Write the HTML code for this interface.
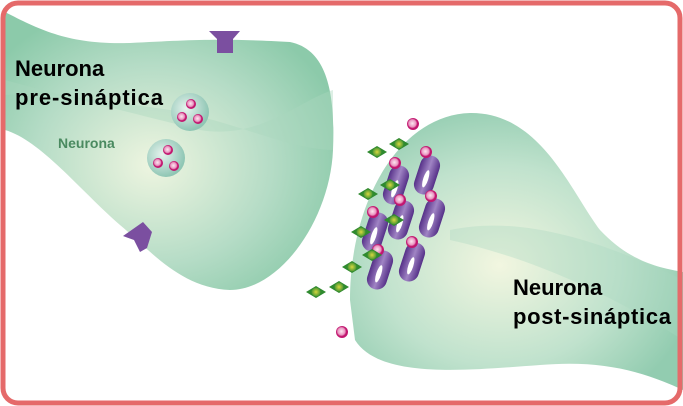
<!DOCTYPE html>
<html><head><meta charset="utf-8"><style>html,body{margin:0;padding:0;background:#fff}svg{display:block}.t{font-family:"Liberation Sans",sans-serif;font-weight:700}</style></head><body>
<svg width="683" height="406" viewBox="0 0 683 406" xmlns="http://www.w3.org/2000/svg">
<defs>
<radialGradient id="g1" cx="0.45" cy="0.55" r="0.6"><stop offset="0" stop-color="#eef5e0"/><stop offset="0.6" stop-color="#b5dcc6"/><stop offset="1" stop-color="#8ccaaa"/></radialGradient>
<radialGradient id="g2" cx="0.45" cy="0.55" r="0.6"><stop offset="0" stop-color="#f2f6e0"/><stop offset="0.6" stop-color="#c0e2cd"/><stop offset="1" stop-color="#92ccb0"/></radialGradient>
<radialGradient id="ves" cx="0.4" cy="0.4" r="0.6"><stop offset="0" stop-color="#e6f3ee"/><stop offset="1" stop-color="#8fc6b4"/></radialGradient>
<radialGradient id="pk" cx="0.45" cy="0.45" r="0.55"><stop offset="0" stop-color="#fde6f0"/><stop offset="0.55" stop-color="#e995c0"/><stop offset="0.75" stop-color="#c2166f"/><stop offset="1" stop-color="#c2166f"/></radialGradient>
<radialGradient id="gr" cx="0.5" cy="0.5" r="0.6"><stop offset="0" stop-color="#d8d840"/><stop offset="1" stop-color="#2f8a2f"/></radialGradient>
<linearGradient id="pu" x1="0" x2="1"><stop offset="0" stop-color="#553088"/><stop offset="0.5" stop-color="#a084c4"/><stop offset="1" stop-color="#553088"/></linearGradient>
<g id="rec"><rect x="-10" y="-20" width="20" height="40" rx="10" fill="url(#pu)"/><ellipse cx="0" cy="4" rx="2.5" ry="9" fill="#fff"/></g>
<g id="dot"><circle r="6" fill="url(#pk)"/></g>
<g id="dia"><path d="M-10,0 L0,-6 L10,0 L0,6 Z" fill="#2f8a2f"/><circle r="4.5" fill="url(#gr)"/></g>
</defs>
<path d="M5,12 C40,30 70,45 130,43 C190,40 220,38 290,42 C330,50 335,100 333,150 C330,220 280,290 230,290 C180,288 150,250 120,225 C80,190 40,140 5,130 Z" fill="url(#g1)"/>
<path d="M5,80 C60,95 120,110 200,130 C260,140 300,100 333,90 L333,150 C290,150 230,120 170,110 C100,100 50,92 5,95Z" fill="#a9d6bf" opacity="0.4"/>
<path d="M350,300 C350,200 400,115 470,113 C540,112 570,190 600,230 C630,262 660,268 683,272 L683,390 C640,370 600,360 540,365 C470,370 380,380 355,340 Z" fill="url(#g2)"/>
<path d="M450,230 C520,215 600,240 683,280 L683,340 C620,300 540,260 450,240Z" fill="#a9d6bf" opacity="0.35"/>
<path d="M209,31 L240,31 L233,39 L233,53 L217,53 L217,39 Z" fill="#7b4fa0"/>
<path d="M123,236 L143,222 L152,232 L147,248 L140,252 L134,240 Z" fill="#7b4fa0"/>
<circle cx="190" cy="112" r="19" fill="url(#ves)"/>
<circle cx="166" cy="158" r="19" fill="url(#ves)"/>
<circle cx="191" cy="104" r="5" fill="url(#pk)"/><circle cx="182" cy="117" r="5" fill="url(#pk)"/><circle cx="198" cy="119" r="5" fill="url(#pk)"/>
<circle cx="168" cy="150" r="5" fill="url(#pk)"/><circle cx="158" cy="163" r="5" fill="url(#pk)"/><circle cx="174" cy="166" r="5" fill="url(#pk)"/>
<use href="#rec" transform="translate(427,175) rotate(18)"/>
<use href="#rec" transform="translate(396,185) rotate(18)"/>
<use href="#rec" transform="translate(401,220) rotate(18)"/>
<use href="#rec" transform="translate(432,218) rotate(18)"/>
<use href="#rec" transform="translate(375,232) rotate(18)"/>
<use href="#rec" transform="translate(412,262) rotate(18)"/>
<use href="#rec" transform="translate(380,270) rotate(18)"/>
<use href="#dot" x="426" y="152"/><use href="#dot" x="395" y="163"/><use href="#dot" x="400" y="200"/>
<use href="#dot" x="431" y="196"/><use href="#dot" x="373" y="212"/><use href="#dot" x="412" y="242"/>
<use href="#dot" x="378" y="250"/><use href="#dot" x="413" y="124"/><use href="#dot" x="342" y="332"/>
<use href="#dia" x="377" y="152"/><use href="#dia" x="399" y="144"/><use href="#dia" x="390" y="185"/>
<use href="#dia" x="368" y="194"/><use href="#dia" x="394" y="220"/><use href="#dia" x="361" y="232"/>
<use href="#dia" x="372" y="255"/><use href="#dia" x="352" y="267"/><use href="#dia" x="339" y="287"/>
<use href="#dia" x="316" y="292"/>
<text x="15" y="76" class="t" font-size="22" fill="#000">Neurona</text>
<text x="15" y="105" class="t" font-size="22" fill="#000" textLength="148">pre-sináptica</text>
<text x="58" y="148" class="t" font-size="14" fill="#4a8a60">Neurona</text>
<text x="513" y="295" class="t" font-size="22" fill="#000">Neurona</text>
<text x="513" y="324" class="t" font-size="22" fill="#000" textLength="158">post-sináptica</text>
<rect x="3" y="3" width="677" height="400" rx="15" fill="none" stroke="#e56a6a" stroke-width="5"/>
</svg>
</body></html>
